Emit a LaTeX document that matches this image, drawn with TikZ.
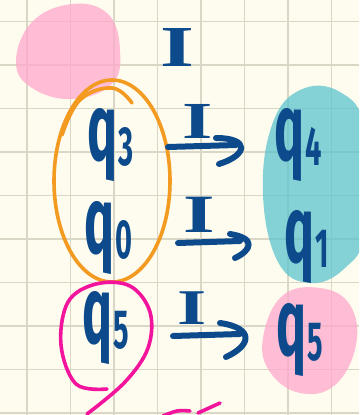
\documentclass[tikz,border=0pt]{standalone}
\usepackage{fontspec}
\setmainfont{Fira Sans}
\newfontfamily\serifI{Liberation Serif}
\definecolor{paper}{HTML}{FEFCEE}
\definecolor{gridc}{HTML}{DAD7C6}
\definecolor{pinkb}{HTML}{FFA8CC}
\definecolor{tealb}{HTML}{5CC4CF}
\definecolor{orangec}{HTML}{F39A20}
\definecolor{magc}{HTML}{F2149C}
\definecolor{inkb}{HTML}{0C4A8C}
\newcommand{\qlab}[1]{\scalebox{1.0}[1.9]{\fontsize{50}{50}\selectfont\bfseries q\kern1pt\raisebox{-3pt}{\fontsize{29}{29}\selectfont #1}}}
\newcommand{\ilab}[1]{\scalebox{1.5}[1]{\fontsize{#1}{#1}\selectfont I}}
\tikzset{
  qnode/.style={anchor=base west, inner sep=0pt, text=inkb},
  inode/.style={inner sep=0pt, text=inkb, font=\serifI\bfseries},
  arrowline/.style={draw=inkb, line width=6pt, line cap=round, line join=round},
  blob/.style={fill opacity=0.75},
  pen/.style={line width=3.6pt, line cap=round, line join=round}
}
\begin{document}
\begin{tikzpicture}[x=1pt,y=-1pt]
\useasboundingbox (0,0) rectangle (359,415);
\fill[paper] (0,0) rectangle (359,415);
\clip (0,0) rectangle (359,415);
% grid
\foreach \gx in {27,70.5,114,157.5,201,244.5,288,331.5}
  \draw[gridc, line width=1.2pt] (\gx,0) -- (\gx,415);
\foreach \gy in {21.5,65,108.5,152,195.5,239,282.5,326,369.5,413}
  \draw[gridc, line width=1.2pt] (0,\gy) -- (359,\gy);
% blobs
\fill[pinkb, blob] plot[smooth cycle, tension=0.7] coordinates {(16,62) (32,22) (72,4) (108,14) (120,50) (112,84) (72,99) (32,88)};
\fill[tealb, blob] plot[smooth cycle, tension=0.7] coordinates {(263,195) (272,125) (300,90) (340,92) (365,130) (365,230) (345,268) (310,283) (278,262)};
\fill[pinkb, blob] plot[smooth cycle, tension=0.7] coordinates {(263,338) (282,296) (320,288) (350,305) (356,345) (335,385) (300,393) (270,372)};
% orange ellipse
\draw[orangec, pen] (112,181) ellipse[x radius=58, y radius=101];
\draw[orangec, pen] plot[smooth, tension=0.7] coordinates {(62,135) (80,100) (112,88) (132,103)};
% magenta loop
\draw[magc, pen] plot[smooth, tension=0.6] coordinates {(107,389) (76,384) (61,345) (68,302) (96,284) (130,286) (150,312) (148,348) (125,382) (87,414)};
\draw[magc, pen] plot[smooth, tension=0.6] coordinates {(163,416) (177,411) (190,411)};
\draw[magc, pen] (198,413) -- (220,403);
% labels
\node[inode] (itop) at (177,48) {\ilab{58}};
\node[qnode] (q3) at (87,160) {\qlab{3}};
\node[qnode] (q0) at (84,253) {\qlab{0}};
\node[qnode] (q5a) at (82,343) {\qlab{5}};
\node[qnode] (q4) at (274,160) {\qlab{4}};
\node[qnode] (q1) at (284,262) {\qlab{1}};
\node[qnode] (q5b) at (276,355) {\qlab{5}};
\node[inode] (i1) at (198,121) {\ilab{52}};
\node[inode] (i2) at (199,215) {\ilab{54}};
\node[inode] (i3) at (192,308) {\ilab{50}};
% arrows
\coordinate (a1s) at (168,147); \coordinate (a1e) at (236,145);
\coordinate (a2s) at (178,243); \coordinate (a2e) at (240,241);
\coordinate (a3s) at (173,336); \coordinate (a3e) at (240,334);
\draw[arrowline] (a1s) -- (a1e);
\draw[arrowline] (216,138) .. controls (250,138) and (248,155) .. (219,164);
\draw[arrowline] (a2s) -- (a2e);
\draw[arrowline] (230,234) .. controls (256,238) and (252,250) .. (235,258);
\draw[arrowline] (a3s) -- (a3e);
\draw[arrowline] (220,323) .. controls (254,328) and (252,345) .. (226,357);
\end{tikzpicture}
\end{document}
